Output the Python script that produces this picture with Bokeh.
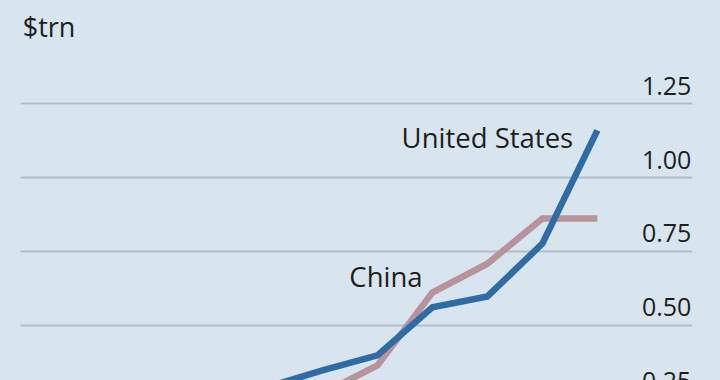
from bokeh.plotting import figure
from bokeh.embed import file_html
from bokeh.resources import INLINE
from bokeh.models import Range1d, FixedTicker
from bokeh.core.properties import value

# ---- data ----
years = [2018, 2019, 2020, 2021, 2022, 2023, 2024]
united_states = [0.29, 0.346, 0.397, 0.56, 0.597, 0.776, 1.16]
china = [0.22, 0.268, 0.363, 0.61, 0.708, 0.861, 0.861]
ticks = [0.25, 0.50, 0.75, 1.00, 1.25]
tick_labels = ["0.25", "0.50", "0.75", "1.00", "1.25"]
unit_label = "$trn"

BG = "#d8e5ee"
BLUE = "#2f6ca5"
PINK = "#b8939b"
TEXT = "#1e1e1e"
GRID = "#b3bdc5"
FONT = "Open Sans"

x0, x1 = 2013.51, 2025.73
y0, y1 = 0.312, 1.573

p = figure(width=704, height=372, output_backend="svg", toolbar_location=None,
           x_range=Range1d(x0, x1), y_range=Range1d(y0, y1),
           min_border_left=12, min_border_right=20, min_border_top=0, min_border_bottom=0)
p.background_fill_color = BG
p.border_fill_color = BG
p.outline_line_color = None
p.axis.visible = False
p.xgrid.visible = False
p.ygrid.ticker = FixedTicker(ticks=ticks)
p.ygrid.grid_line_color = GRID
p.ygrid.grid_line_width = 2

p.line(years, china, line_color=PINK, line_width=6.5, line_cap="butt", line_join="miter")
p.line(years, united_states, line_color=BLUE, line_width=6.5, line_cap="butt", line_join="miter")

# tick labels, right-aligned above gridlines
p.text(x=[x1 - 0.02] * len(ticks), y=ticks, text=tick_labels,
       text_font=value(FONT), text_font_size="25px", text_color=TEXT,
       text_align="right", text_baseline="alphabetic", y_offset=-18)

# series labels
p.text(x=[2020.44], y=[1.095], text=["United States"], text_font=value(FONT),
       text_font_size="27.5px", text_color=TEXT, text_align="left", text_baseline="alphabetic",
       y_offset=-12)
p.text(x=[2019.49], y=[0.624], text=["China"], text_font=value(FONT),
       text_font_size="27.5px", text_color=TEXT, text_align="left", text_baseline="alphabetic",
       y_offset=-12)

# unit label
p.text(x=[2013.55], y=[1.4746], text=[unit_label], text_font=value(FONT),
       text_font_size="27px", text_color=TEXT, text_align="left", text_baseline="alphabetic",
       y_offset=-11)

html = file_html(p, INLINE)
html = html.replace("</head>", "<style>html{background:%s;margin:0;overflow:hidden;} body{background:%s;overflow:hidden;margin:8px;}</style></head>" % (BG, BG), 1)
open("out.html", "w").write(html)
